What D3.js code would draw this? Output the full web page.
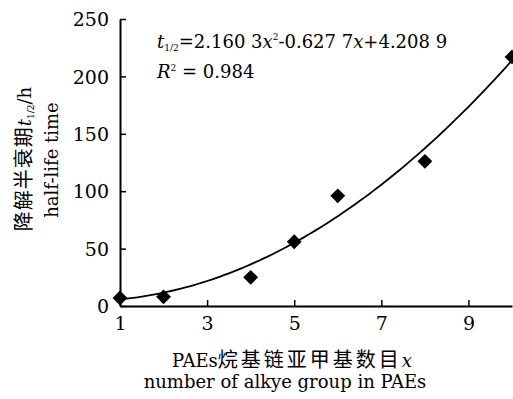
<!DOCTYPE html>
<html>
<head>
<meta charset="utf-8">
<script src="https://cdn.jsdelivr.net/npm/d3@7"></script>
<style>
  body { margin: 0; background: #fff; }
</style>
</head>
<body>
<div id="chart"></div>
<script>
const alkylCounts = [1, 2, 4, 5, 6, 8, 10]
const halfLives = [7, 8, 25, 56, 96, 126, 217]
const xTicks = [1, 3, 5, 7, 9]
const yTicks = [0, 50, 100, 150, 200, 250]
const fitCoef = [2.1603, -0.6277, 4.2089]

const serif = 'DejaVu Serif'
const cjk = 'Noto Sans CJK SC'

const width = 513
const height = 399
const margin = { top: 19, right: 1, bottom: 93, left: 120 }

const svg = d3.select('#chart')
  .append('svg')
  .attr('width', width)
  .attr('height', height)
  .style('font-family', serif)

const xScale = d3.scaleLinear()
  .domain([1, 10])
  .range([margin.left, width - margin.right])
const yScale = d3.scaleLinear()
  .domain([0, 250])
  .range([height - margin.bottom, margin.top])

const xAxis = d3.axisBottom(xScale)
  .tickValues(xTicks)
  .tickSizeInner(-6)
  .tickSizeOuter(0)
  .tickPadding(11)
const yAxis = d3.axisLeft(yScale)
  .tickValues(yTicks)
  .tickSizeInner(-6)
  .tickSizeOuter(0)
  .tickPadding(11)

const gx = svg.append('g')
  .attr('transform', `translate(0, ${height - margin.bottom})`)
  .call(xAxis)
const gy = svg.append('g')
  .attr('transform', `translate(${margin.left}, 0)`)
  .call(yAxis)

for (const g of [gx, gy]) {
  g.attr('font-family', serif)
  g.select('.domain').attr('stroke', '#000').attr('stroke-width', 2)
  g.selectAll('.tick line').attr('stroke', '#000').attr('stroke-width', 1.5)
  g.selectAll('.tick text')
    .style('font-family', serif)
    .attr('font-size', 19)
    .attr('fill', '#000')
}
gx.selectAll('.tick text').attr('dy', '0.71em')
gy.selectAll('.tick text').attr('dy', '0.35em')

// fitted curve
const fitX = d3.range(1, 10.001, 0.1)
const line = d3.line()
  .x((d) => xScale(d))
  .y((d) => yScale(fitCoef[0] * d * d + fitCoef[1] * d + fitCoef[2]))

svg.append('path')
  .datum(fitX)
  .attr('fill', 'none')
  .attr('stroke', '#000')
  .attr('stroke-width', 1.8)
  .attr('d', line)

const diamond = d3.symbol().type(d3.symbolSquare).size(110)
svg.append('g')
  .selectAll('path')
  .data(alkylCounts)
  .enter()
  .append('path')
  .attr('d', diamond)
  .attr('fill', '#000')
  .attr('transform', (d, i) => `translate(${xScale(d)}, ${yScale(halfLives[i])}) rotate(45)`)

// equation
const eq = svg.append('text')
  .attr('x', 157)
  .attr('y', 48)
  .attr('font-size', 18)
eq.append('tspan').attr('font-style', 'italic').text('t')
eq.append('tspan').attr('font-size', 9).attr('dy', 3).text('1/2')
eq.append('tspan').attr('dy', -3).text('=2.160 3')
eq.append('tspan').attr('font-style', 'italic').text('x')
eq.append('tspan').attr('font-size', 9).attr('dy', -8).text('2')
eq.append('tspan').attr('dy', 8).text('-0.627 7')
eq.append('tspan').attr('font-style', 'italic').text('x')
eq.append('tspan').text('+4.208 9')

const r2 = svg.append('text')
  .attr('x', 157)
  .attr('y', 78)
  .attr('font-size', 18)
r2.append('tspan').attr('font-style', 'italic').text('R')
r2.append('tspan').attr('font-size', 9).attr('dy', -7).text('2')
r2.append('tspan').attr('dy', 7).text(' = 0.984')

// x axis title
const xt = svg.append('text')
  .attr('x', 292)
  .attr('y', 367)
  .attr('text-anchor', 'middle')
  .attr('font-size', 18)
xt.append('tspan').text('PAEs')
xt.append('tspan').style('font-family', cjk).attr('font-size', 20)
  .attr('letter-spacing', 3).text('烷基链亚甲基数目')
xt.append('tspan').attr('font-style', 'italic').text('x')

svg.append('text')
  .attr('x', 285)
  .attr('y', 388)
  .attr('text-anchor', 'middle')
  .attr('font-size', 18)
  .text('number of alkye group in PAEs')

// y axis title
const yt = svg.append('text')
  .attr('transform', 'translate(31, 159) rotate(-90)')
  .attr('text-anchor', 'middle')
  .attr('font-size', 18)
yt.append('tspan').style('font-family', cjk).attr('font-size', 20)
  .attr('letter-spacing', 1).text('降解半衰期')
yt.append('tspan').attr('font-style', 'italic').text('t')
yt.append('tspan').attr('font-size', 9).attr('dy', 3).text('1/2')
yt.append('tspan').attr('dy', -3).text('/h')

svg.append('text')
  .attr('transform', 'translate(58, 160) rotate(-90)')
  .attr('text-anchor', 'middle')
  .attr('font-size', 18)
  .text('half-life time')
</script>
</body>
</html>
